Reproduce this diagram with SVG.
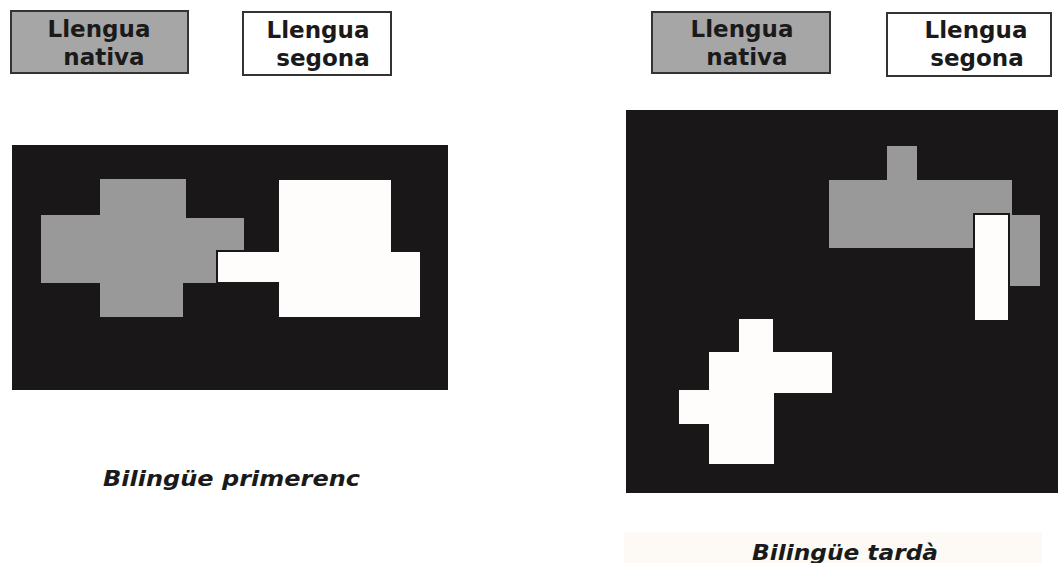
<svg xmlns="http://www.w3.org/2000/svg" width="1058" height="563" viewBox="0 0 1058 563">
<style>
.lbl{font-family:"DejaVu Sans",Verdana,sans-serif;font-weight:bold;font-size:23px;fill:#1a1a1a;text-anchor:middle}
.cap{font-family:"DejaVu Sans",Verdana,sans-serif;font-weight:bold;font-style:italic;font-size:22px;fill:#1a1a1a}
.gbox{fill:#a6a6a6;stroke:#333;stroke-width:2}
.wbox{fill:#fff;stroke:#333;stroke-width:2}
.blk{fill:#1a1718}
.gray{fill:#999999}
.wht{fill:#fffdfb;stroke:#1a1718;stroke-width:2}
</style>
<rect width="1058" height="563" fill="#ffffff"/>
<g id="legend-left-native">
<rect class="gbox" x="11" y="11" width="177" height="62"/>
<text class="lbl" x="99" y="37">Llengua</text>
<text class="lbl" x="104" y="65">nativa</text>
</g>
<g id="legend-left-second">
<rect class="wbox" x="243" y="12" width="148" height="63"/>
<text class="lbl" x="318" y="38">Llengua</text>
<text class="lbl" x="323" y="66">segona</text>
</g>
<g id="legend-right-native">
<rect class="gbox" x="652" y="12" width="178" height="61"/>
<text class="lbl" x="742" y="37">Llengua</text>
<text class="lbl" x="747" y="65">nativa</text>
</g>
<g id="legend-right-second">
<rect class="wbox" x="887" y="13" width="164" height="63"/>
<text class="lbl" x="976" y="38">Llengua</text>
<text class="lbl" x="977" y="66">segona</text>
</g>
<g id="early-bilingual">
<rect class="blk" x="12" y="145" width="436" height="245"/>
<polygon class="gray" points="100,179 186,179 186,218 244,218 244,283 183,283 183,317 100,317 100,283 41,283 41,215 100,215"/>
<polygon class="wht" points="278,179 392,179 392,251 421,251 421,318 278,318 278,283 217,283 217,251 278,251"/>
<text class="cap" x="103" y="486" textLength="257" lengthAdjust="spacingAndGlyphs">Bilingüe primerenc</text>
</g>
<g id="late-bilingual">
<rect class="blk" x="626" y="110" width="432" height="383"/>
<polygon class="gray" points="887,146 917,146 917,180 1012,180 1012,248 829,248 829,180 887,180"/>
<rect class="gray" x="1008" y="215" width="32" height="71"/>
<rect class="wht" x="974" y="214" width="35" height="107"/>
<polygon class="wht" style="stroke:none" points="739,319 773,319 773,352 832,352 832,393 774,393 774,464 709,464 709,424 679,424 679,390 709,390 709,352 739,352"/>
<rect x="624" y="532" width="418" height="31" fill="#fdfaf6"/>
<text class="cap" x="752" y="560" textLength="186" lengthAdjust="spacingAndGlyphs">Bilingüe tardà</text>
</g>
</svg>
